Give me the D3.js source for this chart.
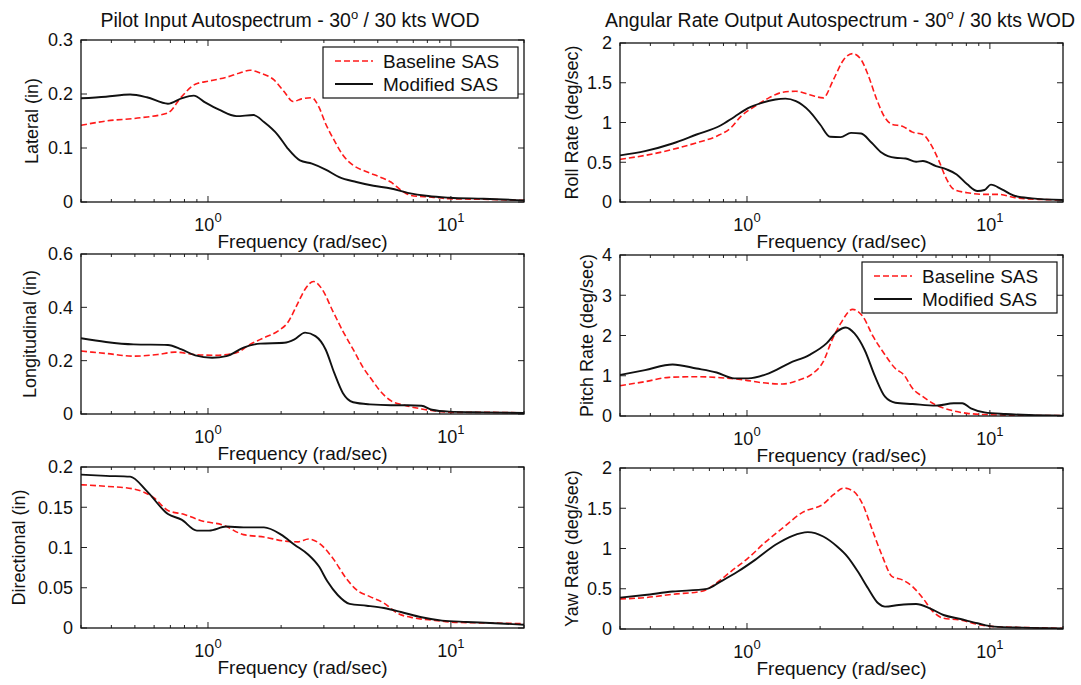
<!DOCTYPE html>
<html><head><meta charset="utf-8">
<script src="https://cdn.jsdelivr.net/npm/d3@7"></script>
<style>
body{margin:0;background:#fff}
svg{display:block}
text{font-family:"Liberation Sans",Arial,Helvetica,sans-serif;fill:#111}
</style>
</head><body>
<svg id="c" width="1081" height="685"></svg>
<script>
// ---------- data: [frequency (rad/sec), value] ----------
const latBase = [[0.3,0.142],[0.38,0.150],[0.527,0.156],[0.684,0.165],[0.778,0.195],[0.886,0.218],[1.01,0.224],[1.19,0.231],[1.35,0.239],[1.49,0.244],[1.64,0.239],[1.87,0.226],[2.06,0.204],[2.24,0.186],[2.43,0.191],[2.68,0.193],[2.86,0.176],[3.05,0.145],[3.31,0.114],[3.59,0.087],[3.96,0.068],[4.5,0.056],[5.13,0.046],[5.66,0.037],[6.23,0.022],[6.86,0.012],[8.35,0.009],[9.84,0.006],[13.6,0.005],[20,0.003]];
const latMod = [[0.3,0.192],[0.38,0.195],[0.478,0.199],[0.56,0.194],[0.684,0.182],[0.778,0.192],[0.873,0.197],[0.977,0.184],[1.11,0.171],[1.31,0.159],[1.54,0.161],[1.70,0.148],[1.94,0.124],[2.13,0.099],[2.39,0.077],[2.68,0.071],[3.05,0.060],[3.47,0.046],[4.08,0.037],[4.8,0.030],[5.66,0.025],[6.64,0.017],[8.07,0.011],[9.84,0.008],[13.6,0.006],[20,0.003]];

const rollBase = [[0.3,0.536],[0.38,0.586],[0.494,0.661],[0.62,0.745],[0.75,0.828],[0.858,0.933],[0.946,1.08],[1.08,1.205],[1.23,1.31],[1.40,1.38],[1.59,1.393],[1.81,1.35],[2.06,1.31],[2.27,1.54],[2.5,1.79],[2.72,1.866],[2.95,1.79],[3.15,1.60],[3.42,1.29],[3.7,1.06],[3.96,0.975],[4.36,0.954],[4.8,0.879],[5.3,0.85],[5.66,0.745],[6.13,0.536],[6.64,0.285],[7.1,0.159],[8.07,0.117],[9.5,0.096],[10.8,0.096],[12.7,0.054],[15.9,0.033],[20,0.025]];
const rollMod = [[0.3,0.586],[0.38,0.64],[0.494,0.736],[0.62,0.849],[0.778,0.962],[0.886,1.07],[1.01,1.18],[1.15,1.247],[1.31,1.29],[1.44,1.30],[1.59,1.268],[1.81,1.14],[2.0,0.975],[2.2,0.82],[2.43,0.816],[2.68,0.87],[2.95,0.862],[3.26,0.745],[3.59,0.619],[4.08,0.556],[4.5,0.548],[4.97,0.506],[5.3,0.515],[6.0,0.452],[6.64,0.41],[7.3,0.347],[8.07,0.222],[8.9,0.138],[9.5,0.151],[10.1,0.218],[11.2,0.159],[12.7,0.075],[14.9,0.046],[20,0.025]];

const lonBase = [[0.3,0.236],[0.38,0.227],[0.494,0.217],[0.62,0.223],[0.73,0.232],[0.886,0.223],[1.08,0.22],[1.31,0.23],[1.49,0.261],[1.70,0.286],[1.94,0.311],[2.13,0.343],[2.35,0.418],[2.51,0.468],[2.72,0.497],[2.95,0.468],[3.26,0.387],[3.59,0.311],[3.96,0.242],[4.36,0.173],[4.72,0.129],[5.13,0.085],[5.66,0.050],[6.44,0.033],[7.57,0.019],[8.9,0.010],[10.8,0.006],[14.5,0.006],[20,0.004]];
const lonMod = [[0.3,0.284],[0.38,0.270],[0.494,0.261],[0.684,0.259],[0.778,0.242],[0.886,0.22],[1.04,0.211],[1.19,0.217],[1.40,0.249],[1.64,0.264],[2.06,0.267],[2.27,0.28],[2.51,0.305],[2.77,0.292],[3.05,0.242],[3.31,0.154],[3.59,0.079],[3.96,0.044],[4.64,0.036],[5.66,0.033],[6.64,0.033],[7.57,0.031],[8.35,0.016],[9.84,0.009],[13.6,0.006],[20,0.004]];

const pitchBase = [[0.3,0.754],[0.38,0.853],[0.478,0.96],[0.62,0.977],[0.778,0.952],[0.977,0.894],[1.15,0.828],[1.40,0.795],[1.64,0.894],[1.87,1.06],[2.06,1.35],[2.24,1.89],[2.43,2.30],[2.72,2.65],[3.0,2.47],[3.31,1.97],[3.7,1.52],[4.08,1.18],[4.43,1.02],[4.8,0.687],[5.3,0.48],[6.0,0.273],[6.86,0.149],[8.07,0.066],[9.84,0.033],[13.6,0.017],[20,0.008]];
const pitchMod = [[0.3,1.02],[0.38,1.14],[0.494,1.28],[0.62,1.18],[0.75,1.08],[0.886,0.936],[1.01,0.936],[1.23,1.06],[1.49,1.31],[1.81,1.52],[2.13,1.81],[2.35,2.10],[2.55,2.20],[2.77,2.05],[3.05,1.64],[3.37,0.977],[3.7,0.48],[4.08,0.33],[4.8,0.298],[6.0,0.257],[7.1,0.315],[7.7,0.315],[8.35,0.19],[9.5,0.091],[11.6,0.05],[14.5,0.025],[20,0.008]];

const dirBase = [[0.3,0.178],[0.38,0.176],[0.494,0.1727],[0.6,0.1615],[0.684,0.146],[0.8,0.141],[0.946,0.133],[1.15,0.128],[1.40,0.116],[1.70,0.113],[2.06,0.108],[2.35,0.107],[2.59,0.1106],[2.86,0.1056],[3.26,0.087],[3.7,0.062],[4.08,0.0476],[4.64,0.039],[5.3,0.031],[6.0,0.0186],[7.1,0.0124],[8.6,0.0095],[10.4,0.007],[14.5,0.0062],[20,0.0054]];
const dirMod = [[0.3,0.1905],[0.38,0.189],[0.478,0.188],[0.56,0.170],[0.684,0.1416],[0.778,0.1346],[0.9,0.121],[1.01,0.121],[1.19,0.126],[1.40,0.125],[1.70,0.125],[2.0,0.116],[2.27,0.1035],[2.59,0.091],[2.86,0.0766],[3.1,0.058],[3.42,0.041],[3.83,0.030],[4.5,0.0277],[5.3,0.0248],[6.23,0.0199],[7.57,0.0133],[9.2,0.0091],[11.6,0.0075],[14.5,0.0062],[20,0.0041]];

const yawBase = [[0.3,0.373],[0.38,0.39],[0.494,0.431],[0.66,0.473],[0.73,0.548],[0.858,0.714],[1.01,0.88],[1.19,1.079],[1.40,1.253],[1.70,1.452],[2.06,1.552],[2.27,1.668],[2.5,1.751],[2.72,1.718],[3.0,1.544],[3.26,1.253],[3.59,0.921],[3.96,0.651],[4.36,0.61],[4.8,0.527],[5.3,0.382],[5.83,0.216],[6.44,0.133],[7.57,0.112],[8.9,0.058],[10.4,0.029],[14.5,0.017],[20,0.008]];
const yawMod = [[0.3,0.39],[0.38,0.423],[0.494,0.465],[0.684,0.498],[0.778,0.589],[0.917,0.714],[1.08,0.859],[1.31,1.046],[1.54,1.158],[1.78,1.203],[2.06,1.149],[2.35,1.025],[2.59,0.90],[2.86,0.714],[3.15,0.506],[3.47,0.319],[3.7,0.278],[4.22,0.299],[4.97,0.311],[5.66,0.257],[6.44,0.174],[7.57,0.124],[8.9,0.071],[10.4,0.029],[13.6,0.017],[20,0.008]];

const freqDomain = [0.3, 20];
const xMajor = [1, 10];
const xMinor = [0.3,0.4,0.5,0.6,0.7,0.8,0.9,2,3,4,5,6,7,8,9,20];
const latTicks = [0, 0.1, 0.2, 0.3];
const lonTicks = [0, 0.2, 0.4, 0.6];
const dirTicks = [0, 0.05, 0.1, 0.15, 0.2];
const rollTicks = [0, 0.5, 1, 1.5, 2];
const pitchTicks = [0, 1, 2, 3, 4];
const yawTicks = [0, 0.5, 1, 1.5, 2];
const seriesNames = ["Baseline SAS", "Modified SAS"];
const xLabel = "Frequency (rad/sec)";
const leftTitle = ["Pilot Input Autospectrum - 30", "o", " / 30 kts WOD"];
const rightTitle = ["Angular Rate Output Autospectrum - 30", "o", " / 30 kts WOD"];

// ---------- layout ----------
const LX = [81, 524], RX = [620, 1063];
const panels = [
  {x: LX, y: [40, 202],  ticks: latTicks,  label: "Lateral (in)",          base: latBase,  mod: latMod,  legend: true, lx: 32},
  {x: LX, y: [254, 414], ticks: lonTicks,  label: "Longitudinal (in)",     base: lonBase,  mod: lonMod,  lx: 30},
  {x: LX, y: [467, 628], ticks: dirTicks,  label: "Directional (in)",      base: dirBase,  mod: dirMod,  lx: 19},
  {x: RX, y: [43, 202],  ticks: rollTicks, label: "Roll Rate (deg/sec)",   base: rollBase, mod: rollMod, lx: 572},
  {x: RX, y: [255, 416], ticks: pitchTicks,label: "Pitch Rate (deg/sec)",  base: pitchBase,mod: pitchMod,legend: true, lx: 587},
  {x: RX, y: [468, 629], ticks: yawTicks,  label: "Yaw Rate (deg/sec)",    base: yawBase,  mod: yawMod,  lx: 572}
];

const svg = d3.select("#c");
const FS = 18;

function title(parts, cx) {
  const t = svg.append("text").attr("x", cx).attr("y", 27).attr("text-anchor", "middle").style("font-size", "19.5px");
  t.append("tspan").text(parts[0]);
  t.append("tspan").attr("dy", -8).style("font-size", "13px").text(parts[1]);
  t.append("tspan").attr("dy", 8).text(parts[2]);
}
title(leftTitle, 290);
title(rightTitle, 840);

panels.forEach((p, i) => {
  const x = d3.scaleLog().domain(freqDomain).range(p.x);
  const yMax = p.ticks[p.ticks.length - 1];
  const y = d3.scaleLinear().domain([0, yMax]).range([p.y[1], p.y[0]]);
  const g = svg.append("g");
  const clipId = "clip" + i;
  g.append("clipPath").attr("id", clipId).append("rect")
    .attr("x", p.x[0]).attr("y", p.y[0]).attr("width", p.x[1] - p.x[0]).attr("height", p.y[1] - p.y[0]);

  // ticks (inside, all four sides)
  const tk = g.append("g").attr("stroke", "#222").attr("stroke-width", 1);
  xMajor.forEach(v => {
    tk.append("line").attr("x1", x(v)).attr("x2", x(v)).attr("y1", p.y[1]).attr("y2", p.y[1] - 6);
    tk.append("line").attr("x1", x(v)).attr("x2", x(v)).attr("y1", p.y[0]).attr("y2", p.y[0] + 6);
  });
  xMinor.forEach(v => {
    tk.append("line").attr("x1", x(v)).attr("x2", x(v)).attr("y1", p.y[1]).attr("y2", p.y[1] - 3);
    tk.append("line").attr("x1", x(v)).attr("x2", x(v)).attr("y1", p.y[0]).attr("y2", p.y[0] + 3);
  });
  p.ticks.forEach(v => {
    tk.append("line").attr("x1", p.x[0]).attr("x2", p.x[0] + 6).attr("y1", y(v)).attr("y2", y(v));
    tk.append("line").attr("x1", p.x[1]).attr("x2", p.x[1] - 6).attr("y1", y(v)).attr("y2", y(v));
  });

  // y tick labels
  p.ticks.forEach(v => {
    g.append("text").attr("x", p.x[0] - 8).attr("y", y(v)).attr("dy", "0.36em")
      .attr("text-anchor", "end").style("font-size", FS + "px").text(String(v));
  });
  // x tick labels 10^n
  xMajor.forEach(v => {
    const t = g.append("text").attr("x", x(v)).attr("y", p.y[1] + 29)
      .attr("text-anchor", "middle").style("font-size", FS + "px");
    t.append("tspan").text("10");
    t.append("tspan").attr("dy", -9).style("font-size", "13px").text(String(Math.round(Math.log10(v))));
  });
  // x label
  g.append("text").attr("x", (p.x[0] + p.x[1]) / 2).attr("y", p.y[1] + 46)
    .attr("text-anchor", "middle").style("font-size", "19px").text(xLabel);
  // y label
  const cy = (p.y[0] + p.y[1]) / 2;
  g.append("text").attr("transform", `translate(${p.lx},${cy}) rotate(-90)`)
    .attr("text-anchor", "middle").attr("dy", "0.35em").style("font-size", FS + "px").text(p.label);

  // lines
  const line = d3.line().x(d => x(d[0])).y(d => y(d[1])).curve(d3.curveMonotoneX);
  const lg = g.append("g").attr("clip-path", `url(#${clipId})`);
  lg.append("path").datum(p.base).attr("d", line).attr("fill", "none")
    .attr("stroke", "#ff1a1a").attr("stroke-width", 1.6).attr("stroke-dasharray", "6,3");
  lg.append("path").datum(p.mod).attr("d", line).attr("fill", "none")
    .attr("stroke", "#111").attr("stroke-width", 1.9);

  // frame
  g.append("rect").attr("x", p.x[0]).attr("y", p.y[0]).attr("width", p.x[1] - p.x[0]).attr("height", p.y[1] - p.y[0])
    .attr("fill", "none").attr("stroke", "#111").attr("stroke-width", 1.3);

  // legend
  if (p.legend) {
    const lx0 = p.x[1] - 201, ly0 = p.y[0] + 7;
    const lgd = g.append("g");
    lgd.append("rect").attr("x", lx0).attr("y", ly0).attr("width", 195).attr("height", 51)
      .attr("fill", "#fff").attr("stroke", "#111").attr("stroke-width", 1.2);
    [0, 1].forEach(k => {
      const yy = ly0 + 14 + k * 23;
      lgd.append("line").attr("x1", lx0 + 12).attr("x2", lx0 + 50).attr("y1", yy).attr("y2", yy)
        .attr("stroke", k === 0 ? "#ff1a1a" : "#111").attr("stroke-width", k === 0 ? 1.6 : 1.9)
        .attr("stroke-dasharray", k === 0 ? "6,3" : null);
      lgd.append("text").attr("x", lx0 + 60).attr("y", yy).attr("dy", "0.36em")
        .style("font-size", "19px").text(seriesNames[k]);
    });
  }
});
</script>
</body></html>
